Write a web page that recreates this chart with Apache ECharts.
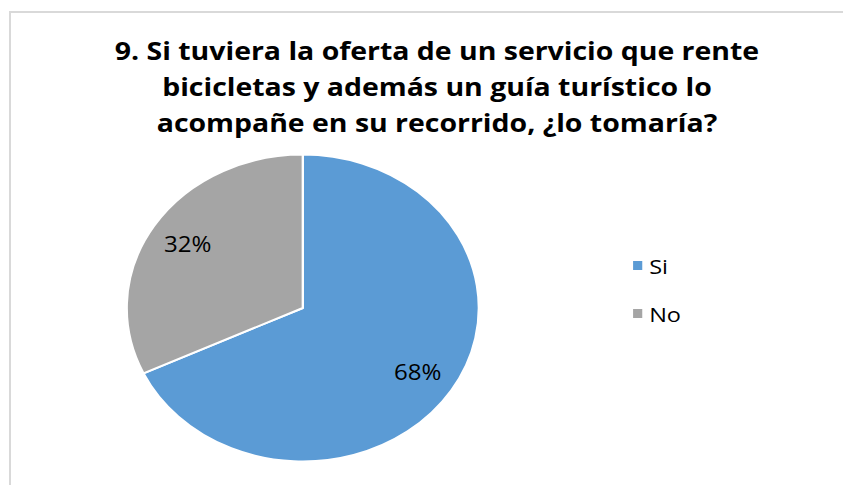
<!DOCTYPE html>
<html>
<head>
<meta charset="utf-8">
<script src="https://cdn.jsdelivr.net/npm/echarts@6/dist/echarts.min.js"></script>
<style>
  html, body { margin: 0; padding: 0; background: #fff; overflow: hidden; }
  #wrap { position: relative; width: 843px; height: 485px; overflow: hidden; }
  #frame { position: absolute; left: 9px; top: 11px; width: 900px; height: 520px;
           border-left: 2px solid #d9d9d9; border-top: 2px solid #d9d9d9; }
  #chart { position: absolute; left: 0; top: 0; width: 735px; height: 485px;
           transform: scaleX(1.1469); transform-origin: 0 0; }
</style>
</head>
<body>
<div id="wrap">
  <div id="frame"></div>
  <div id="chart"></div>
</div>
<script>
const titleLines = [
  '9. Si tuviera la oferta de un servicio que rente',
  'bicicletas y además un guía turístico lo',
  'acompañe en su recorrido, ¿lo tomaría?'
];
const categories = ['Si', 'No'];
const values = [68, 32];
const colors = ['#5B9BD5', '#A5A5A5'];

const pieData = categories.map((name, i) => ({ name: name, value: values[i], itemStyle: { color: colors[i] } }));

const chart = echarts.init(document.getElementById('chart'), null, { renderer: 'svg' });
chart.setOption({
  animation: false,
  title: {
    text: titleLines.join('\n'),
    left: 376,
    top: 27,
    textAlign: 'center',
    textStyle: {
      fontFamily: 'Open Sans',
      fontWeight: 'bold',
      fontSize: 24.8,
      lineHeight: 36,
      color: '#000'
    }
  },
  legend: {
    orient: 'vertical',
    left: 545,
    top: 250,
    itemWidth: 10,
    itemHeight: 11,
    itemGap: 27,
    icon: 'rect',
    data: categories,
    textStyle: { fontFamily: 'Open Sans', fontSize: 20.5, lineHeight: 20, color: '#000' }
  },
  series: [
    {
      type: 'pie',
      center: [264, 308],
      radius: [0, 153.5],
      startAngle: 90,
      clockwise: true,
      silent: true,
      label: { show: false },
      labelLine: { show: false },
      itemStyle: { borderColor: '#fff', borderWidth: 2 },
      data: pieData
    },
    {
      type: 'pie',
      center: [264, 308],
      radius: [78, 153.5],
      startAngle: 90,
      clockwise: true,
      silent: true,
      legendHoverLink: false,
      itemStyle: { color: 'rgba(0,0,0,0)', borderWidth: 0 },
      label: {
        show: true,
        position: 'inside',
        formatter: '{c}%',
        fontFamily: 'Open Sans',
        fontSize: 21,
        color: '#000'
      },
      labelLine: { show: false },
      data: categories.map((name, i) => ({ name: name, value: values[i] }))
    }
  ]
});
</script>
</body>
</html>
